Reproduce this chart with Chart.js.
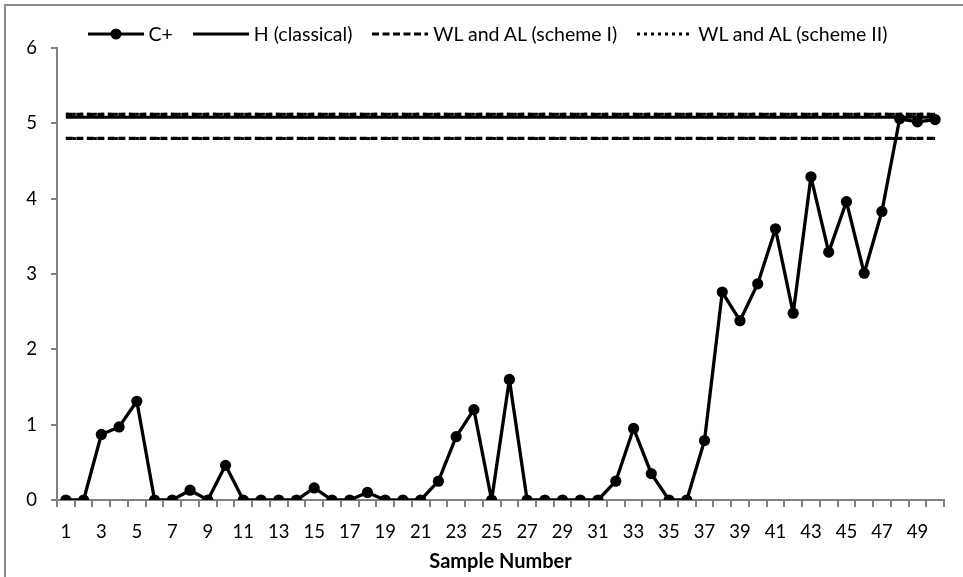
<!DOCTYPE html>
<html>
<head>
<meta charset="utf-8">
<script src="https://cdn.jsdelivr.net/npm/chart.js@4.4.1/dist/chart.umd.min.js"></script>
<style>
  html, body { margin: 0; padding: 0; background: #fff; overflow: hidden; }
  #wrap { position: relative; width: 963px; height: 577px; overflow: hidden; }
  #frame { position: absolute; left: 4px; top: 4px; width: 1100px; height: 800px; border: 2px solid #8a8a8a; box-sizing: border-box; }
  #c { position: absolute; left: 0; top: 0; }
  #legend { position: absolute; top: 22px; left: 0; width: 975px; display: flex; justify-content: center; align-items: center; font-family: Lato, "Liberation Sans", sans-serif; font-size: 19.5px; color: #000; }
  #legend .item { display: flex; align-items: center; margin: 0 10px; white-space: nowrap; }
  #legend svg { margin-right: 5px; }
</style>
</head>
<body>
<div id="wrap">
  <div id="frame"></div>
  <canvas id="c" width="963" height="577"></canvas>
  <div id="legend"></div>
</div>
<script>
// ---- data ----
const categories = ['1','2','3','4','5','6','7','8','9','10','11','12','13','14','15','16','17','18','19','20',
  '21','22','23','24','25','26','27','28','29','30','31','32','33','34','35','36','37','38','39','40',
  '41','42','43','44','45','46','47','48','49','50'];
const cPlus = [0,0,0.87,0.97,1.31,0,0,0.13,0,0.46,0,0,0,0,0.16,0,0,0.10,0,0,
  0,0.25,0.84,1.2,0,1.6,0,0,0,0,0,0.25,0.95,0.35,0,0,0.79,2.76,2.38,2.87,
  3.6,2.48,4.29,3.29,3.96,3.01,3.83,5.06,5.02,5.05];
const hClassical = 5.08;
const schemeI = { WL: 4.8, AL: 5.12 };
const schemeII = { WL: 4.8, AL: 5.12 };
const yTicks = [0,1,2,3,4,5,6];
const seriesNames = ['C+', 'H (classical)', 'WL and AL (scheme I)', 'WL and AL (scheme II)'];

const FONT = 'Lato, "Liberation Sans", sans-serif';
const AXIS = '#808080';

function levelLine(v) {
  return [{ x: categories[0], y: v }, { x: categories[categories.length - 1], y: v }];
}

const datasets = [
  { label: seriesNames[0], data: cPlus, borderColor: '#000', backgroundColor: '#000', borderWidth: 3.3,
    borderJoinStyle: 'round', borderCapStyle: 'round',
    pointRadius: 5.6, pointHoverRadius: 5.6, pointBackgroundColor: '#000', pointBorderWidth: 0, tension: 0 },
  { label: seriesNames[1], data: levelLine(hClassical), borderColor: '#000', borderWidth: 3, pointRadius: 0 },
  { label: seriesNames[2], data: levelLine(schemeI.AL), borderColor: '#000', borderWidth: 3.2, borderDash: [7, 3.5], pointRadius: 0 },
  { label: seriesNames[2] + ' WL', data: levelLine(schemeI.WL), borderColor: '#000', borderWidth: 3.2, borderDash: [7, 3.5], pointRadius: 0 },
  { label: seriesNames[3], data: levelLine(schemeII.AL), borderColor: '#000', borderWidth: 3, borderDash: [3, 4], pointRadius: 0 },
  { label: seriesNames[3] + ' WL', data: levelLine(schemeII.WL), borderColor: '#000', borderWidth: 3, borderDash: [3, 4], pointRadius: 0 }
];

new Chart(document.getElementById('c'), {
  type: 'line',
  data: { labels: categories, datasets: datasets },
  options: {
    responsive: false,
    devicePixelRatio: 1,
    animation: false,
    layout: { padding: { top: 48, right: 19, left: 0, bottom: 0 } },
    plugins: { legend: { display: false }, tooltip: { enabled: false } },
    scales: {
      x: {
        type: 'category',
        offset: true,
        grid: { display: true, offset: true, drawOnChartArea: false, drawTicks: true, tickLength: 7,
          color: AXIS, tickColor: AXIS, lineWidth: 2, tickWidth: 2 },
        border: { display: true, color: AXIS, width: 2 },
        ticks: {
          autoSkip: false, maxRotation: 0, minRotation: 0, color: '#000', padding: 14,
          font: { family: FONT, size: 18.5 },
          callback: function (v, i) { return i % 2 === 0 ? categories[i] : ''; }
        },
        title: { display: true, text: 'Sample Number', color: '#000',
          font: { family: FONT, size: 20, weight: 'bold' }, padding: { top: 2, bottom: 3 } },
        afterFit: function (s) { s.height = 77; }
      },
      y: {
        min: yTicks[0], max: yTicks[yTicks.length - 1],
        grid: { display: true, drawOnChartArea: false, drawTicks: true, tickLength: 6,
          color: AXIS, tickColor: AXIS, lineWidth: 2, tickWidth: 2 },
        border: { display: true, color: AXIS, width: 2 },
        ticks: { stepSize: 1, color: '#000', padding: 14, font: { family: FONT, size: 18.5 } },
        afterFit: function (s) { s.width = 57; }
      }
    }
  }
});

// HTML legend
const legendDefs = [
  { name: seriesNames[0], dash: null, marker: true },
  { name: seriesNames[1], dash: null, marker: false },
  { name: seriesNames[2], dash: '7 3.5', marker: false },
  { name: seriesNames[3], dash: '3 4', marker: false }
];
const leg = document.getElementById('legend');
legendDefs.forEach(function (d) {
  const item = document.createElement('div');
  item.className = 'item';
  const w = 56;
  let svg = '<svg width="' + w + '" height="14" viewBox="0 0 ' + w + ' 14">' +
    '<line x1="0" y1="7" x2="' + w + '" y2="7" stroke="#000" stroke-width="3"' +
    (d.dash ? ' stroke-dasharray="' + d.dash + '"' : '') + '/>' +
    (d.marker ? '<circle cx="' + (w / 2) + '" cy="7" r="5.5" fill="#000"/>' : '') + '</svg>';
  item.innerHTML = svg;
  const span = document.createElement('span');
  span.textContent = d.name;
  item.appendChild(span);
  leg.appendChild(item);
});
</script>
</body>
</html>
